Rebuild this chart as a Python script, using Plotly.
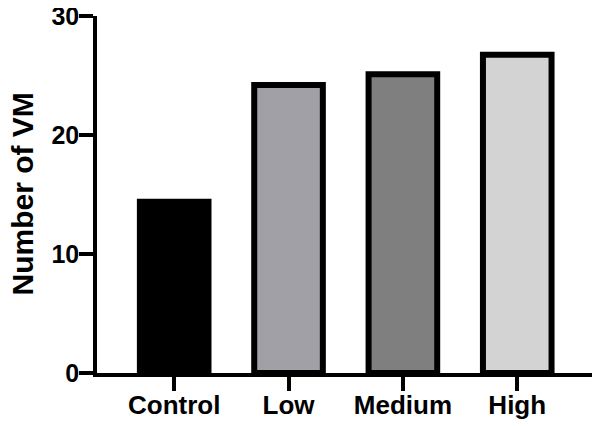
import plotly.graph_objects as go

categories = ["Control", "Low", "Medium", "High"]
values = [14.4, 24.2, 25.1, 26.75]
fill_colors = ["#000000", "#a1a0a6", "#7f7f7f", "#d3d3d3"]
y_ticks = [0, 10, 20, 30]
y_title = "Number of VM"

FONT = "Arial, Liberation Sans, sans-serif"

# The page body has an 8px default margin, so the figure is sized/offset to fit the 600x426 window.
fig = go.Figure(
    go.Bar(
        x=categories,
        y=values,
        width=0.6,
        marker=dict(color=fill_colors, line=dict(color="#000000", width=6)),
    )
)

fig.update_layout(
    template="none",
    width=592,
    height=418,
    margin=dict(l=89, r=5, t=8, b=53, autoexpand=False),
    plot_bgcolor="white",
    paper_bgcolor="white",
    showlegend=False,
    font=dict(family=FONT, color="#000000"),
)

fig.add_annotation(
    text=y_title,
    xref="paper",
    yref="paper",
    x=0,
    y=0.5,
    xanchor="center",
    yanchor="middle",
    xshift=-75,
    textangle=-90,
    showarrow=False,
    font=dict(family=FONT, size=30, color="#000000", weight="bold"),
)

fig.update_xaxes(
    type="category",
    range=[-0.675, 3.68],
    automargin=False,
    showline=True,
    linecolor="#000000",
    linewidth=3.5,
    ticks="outside",
    ticklen=14,
    tickwidth=3.5,
    tickcolor="#000000",
    showgrid=False,
    zeroline=False,
    ticklabeloverflow="allow",
    ticklabelstandoff=-8,
    tickfont=dict(family=FONT, size=26, color="#000000", weight="bold"),
)

fig.update_yaxes(
    range=[0, 30],
    automargin=False,
    tickvals=y_ticks,
    ticktext=[str(v) for v in y_ticks],
    showline=True,
    linecolor="#000000",
    linewidth=3.5,
    ticks="outside",
    ticklen=14,
    tickwidth=3.5,
    tickcolor="#000000",
    showgrid=False,
    zeroline=False,
    ticklabeloverflow="allow",
    ticklabelstandoff=-5,
    tickfont=dict(family=FONT, size=25, color="#000000", weight="bold"),
)

fig.write_html("out.html")
